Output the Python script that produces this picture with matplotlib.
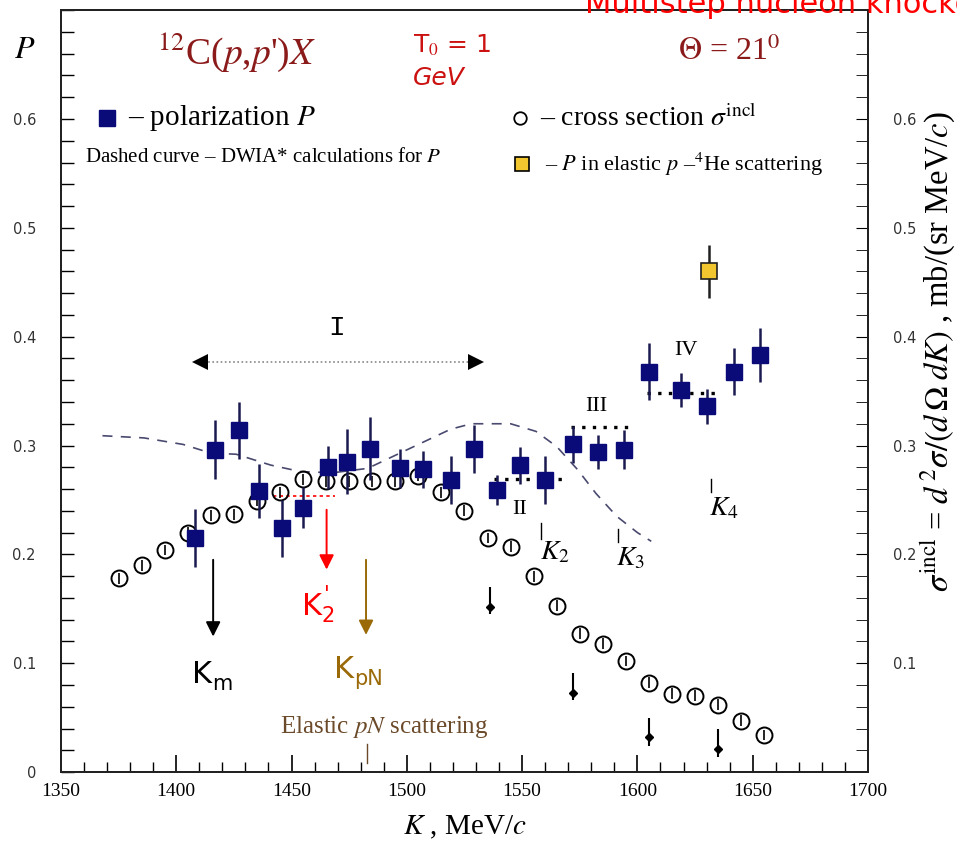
import numpy as np
import matplotlib.pyplot as plt
from matplotlib.ticker import MultipleLocator

plt.rcParams["mathtext.fontset"] = "stix"

# polarization P (filled navy squares)
pol_K = [1408, 1417, 1427, 1436, 1446, 1455, 1466, 1474, 1484, 1497, 1507, 1519,
         1529, 1539, 1549, 1560, 1572, 1583, 1594, 1605, 1619, 1630, 1642, 1653]
pol_P = [0.215, 0.296, 0.314, 0.258, 0.224, 0.243, 0.280, 0.285, 0.297, 0.279, 0.278, 0.268,
         0.297, 0.259, 0.282, 0.268, 0.301, 0.294, 0.296, 0.368, 0.351, 0.336, 0.368, 0.383]
pol_err = [0.027, 0.027, 0.026, 0.025, 0.026, 0.019, 0.020, 0.030, 0.029, 0.018, 0.017, 0.022,
           0.022, 0.014, 0.017, 0.022, 0.017, 0.016, 0.018, 0.026, 0.016, 0.016, 0.022, 0.025]

# inclusive cross section (open circles)
xs_K = [1375, 1385, 1395, 1405, 1415, 1425, 1435, 1445, 1455, 1465, 1475, 1485, 1495, 1505,
        1515, 1525, 1535, 1545, 1555, 1565, 1575, 1585, 1595, 1605, 1615, 1625, 1635, 1645, 1655]
xs_val = [0.178, 0.190, 0.204, 0.220, 0.236, 0.237, 0.249, 0.257, 0.269, 0.267, 0.267, 0.267,
          0.267, 0.272, 0.257, 0.240, 0.215, 0.207, 0.180, 0.153, 0.127, 0.118, 0.102, 0.082,
          0.072, 0.070, 0.062, 0.047, 0.034]
xs_err = 0.005

# small filled points with long upper bars
low_K = [1536, 1572, 1605, 1635]
low_val = [0.152, 0.073, 0.032, 0.021]
low_up = [0.018, 0.018, 0.018, 0.019]
low_dn = [0.007, 0.007, 0.008, 0.007]

# P in elastic p-4He scattering
he_K = [1631]
he_P = [0.460]
he_err = [0.024]

# DWIA dashed curve
dwia_K = [1368, 1386, 1403, 1415, 1426, 1441, 1454, 1468, 1483, 1494, 1506, 1519, 1528,
          1545, 1556, 1565, 1574, 1582, 1591, 1600, 1606]
dwia_P = [0.309, 0.307, 0.301, 0.293, 0.292, 0.282, 0.276, 0.275, 0.279, 0.290, 0.302, 0.315,
          0.320, 0.320, 0.313, 0.299, 0.278, 0.256, 0.235, 0.220, 0.212]

# dotted plateau levels: (K start, K end, P)
plateaus = [(1538, 1570, 0.2696), (1571, 1599, 0.317), (1604, 1636, 0.348)]
plateau_labels = [("II", 1549, 0.241), ("III", 1582, 0.336), ("IV", 1621, 0.387)]

navy = "#0a0a78"
darkred = "#8b1a1a"
yellow = "#f2c62e"
brown = "#9a6a08"

fig = plt.figure(figsize=(9.57, 8.47), dpi=100)
ax = fig.add_axes([0.0637, 0.0885, 0.8433, 0.8995])
ax.set_xlim(1350, 1700)
ax.set_ylim(0, 0.70)

# DWIA curve
ax.plot(dwia_K, dwia_P, color="#4a4a70", lw=1.2, dashes=(6, 5))

# cross section
ax.errorbar(xs_K, xs_val, yerr=xs_err, fmt="o", ms=11.5, mfc="none", mec="black",
            mew=1.4, ecolor="black", elinewidth=1.2, capsize=0, zorder=3)
ax.errorbar(low_K, low_val, yerr=[low_dn, low_up], fmt="D", ms=4.5, color="black",
            elinewidth=1.5, capsize=0, zorder=3)

# plateaus
for k0, k1, p in plateaus:
    ax.plot([k0, k1], [p, p], color="black", lw=2.4, ls=(0, (1, 2.2)), zorder=2)
for txt, k, p in plateau_labels:
    ax.text(k, p, txt, ha="center", va="center", fontsize=16, family="Liberation Serif")

# polarization
ax.errorbar(pol_K, pol_P, yerr=pol_err, fmt="s", ms=11.5, color=navy, mec=navy,
            ecolor="#1a1a50", elinewidth=1.8, capsize=0, zorder=4)
ax.errorbar(he_K, he_P, yerr=he_err, fmt="s", ms=11, mfc=yellow, mec="#202020",
            mew=1.2, ecolor="#202020", elinewidth=1.8, capsize=0, zorder=4)

# red dotted K2' level
ax.plot([1442, 1469], [0.254, 0.254], color="red", lw=1.2, ls=(0, (2, 2)), zorder=2)

# region I double arrow
ax.plot([1412, 1528], [0.377, 0.377], color="#888888", lw=1.2, ls=(0, (1, 1.5)))
ax.plot([1410.5], [0.377], marker="<", ms=11, color="black", mew=0)
ax.plot([1530], [0.377], marker=">", ms=11, color="black", mew=0)
ax.text(1469.5, 0.408, "I", ha="center", va="center", fontsize=20, family="Liberation Mono")

# K ticks and labels
for k, p0, p1 in [(1558.4, 0.214, 0.229), (1591.7, 0.211, 0.223), (1631.9, 0.257, 0.269)]:
    ax.plot([k, k], [p0, p1], color="black", lw=1)
ax.text(1564, 0.203, "$K_2$", ha="center", va="center", fontsize=20)
ax.text(1597, 0.197, "$K_3$", ha="center", va="center", fontsize=20)
ax.text(1637.5, 0.243, "$K_4$", ha="center", va="center", fontsize=20)

# arrows
arr = dict(arrowstyle="-|>", lw=1.4, mutation_scale=22, shrinkA=0, shrinkB=0)
ax.annotate("", xy=(1416, 0.1245), xytext=(1416, 0.195), arrowprops=dict(arr, color="black"))
ax.annotate("", xy=(1465.2, 0.186), xytext=(1465.2, 0.241), arrowprops=dict(arr, color="red"))
ax.annotate("", xy=(1482.3, 0.126), xytext=(1482.3, 0.195), arrowprops=dict(arr, color=brown))


def klabel(k, p, sub, color, prime=False):
    ax.text(k, p, "K", ha="right", va="center", fontsize=22, color=color)
    ax.annotate(sub, (k, p), xytext=(0, -7), textcoords="offset points", ha="left",
                va="center", fontsize=15, color=color)
    if prime:
        ax.annotate("'", (k, p), xytext=(2, 8), textcoords="offset points", ha="left",
                    va="center", fontsize=15, color=color)


klabel(1415.5, 0.090, "m", "black")
klabel(1463, 0.152, "2", "red", prime=True)
klabel(1477, 0.094, "pN", brown)

# elastic pN
ax.text(1490, 0.0417, r"Elastic $pN$ scattering", ha="center", va="center", fontsize=18,
        color="#6b4a2a", family="Liberation Serif")
ax.plot([1482.6, 1482.6], [0.008, 0.026], color="#6b4a2a", lw=1)

# axes ticks
ax.xaxis.set_major_locator(MultipleLocator(50))
ax.xaxis.set_minor_locator(MultipleLocator(10))
ax.yaxis.set_major_locator(MultipleLocator(0.1))
ax.yaxis.set_minor_locator(MultipleLocator(0.02))
ax.tick_params(which="both", direction="in", top=False, right=True)
ax.tick_params(axis="x", which="major", length=12, width=1.2, pad=8)
ax.tick_params(axis="x", which="minor", length=7, width=1.0)
ax.tick_params(axis="y", which="both", length=9, width=1.0)
ax.set_yticks([0, 0.1, 0.2, 0.3, 0.4, 0.5, 0.6])
ax.set_yticklabels(["0", "0.1", "0.2", "0.3", "0.4", "0.5", "0.6"], fontsize=10.5, color="#333333")
ax.set_xticks([1350, 1400, 1450, 1500, 1550, 1600, 1650, 1700])
ax.set_xticklabels(["1350", "1400", "1450", "1500", "1550", "1600", "1650", "1700"],
                   fontsize=14, family="Liberation Serif")
ax.tick_params(axis="y", pad=18)

ax2 = ax.twinx()
ax2.set_ylim(0, 0.70)
ax2.yaxis.set_minor_locator(MultipleLocator(0.02))
ax2.set_yticks([0.1, 0.2, 0.3, 0.4, 0.5, 0.6])
ax2.set_yticklabels(["0.1", "0.2", "0.3", "0.4", "0.5", "0.6"], fontsize=10.5, color="#333333")
ax2.tick_params(which="both", direction="in", length=9, pad=18)

for a in (ax, ax2):
    for s in a.spines.values():
        s.set_linewidth(1.4)
        s.set_color("#222222")

# axis titles
fig.text(25 / 957, 1 - 50 / 847, "$P$", fontsize=23, ha="center", va="center")
ax.set_xlabel(r"$K$ , MeV/$c$", fontsize=21, family="Liberation Serif", labelpad=10)
fig.text(938 / 957, 1 - 352 / 847,
         r"$\sigma^{\rm incl}$ = $d^{\,2}\sigma/(d\,\Omega\; dK)$ , mb/(sr MeV/$c$)",
         rotation=90, fontsize=23.5, ha="center", va="center", family="Liberation Serif")

# top texts
fig.text(237 / 957, 1 - 52 / 847, r"$^{12}$C($p$,$p$')$X$", fontsize=27, color=darkred,
         ha="center", va="center", family="Liberation Serif")
fig.text(729 / 957, 1 - 52 / 847, r"$\Theta$ = 21$^0$", fontsize=23, color=darkred,
         ha="center", va="center", family="Liberation Serif")
fig.text(413 / 957, 1 - 45 / 847, r"T$_0$ = 1", fontsize=18, color="#cc1111", ha="left", va="center")
fig.text(413 / 957, 1 - 78 / 847, "GeV", fontsize=18, color="#cc1111", ha="left", va="center",
         style="italic")
fig.text(585 / 957, 1 - 13 / 847, "Multistep nucleon knockout", fontsize=22, color="red",
         ha="left", va="baseline")

# legend
ax.plot([107 / 957], [1 - 118 / 847], "s", ms=11, color=navy, transform=fig.transFigure,
        clip_on=False)
fig.text(128 / 957, 1 - 118 / 847, r"– polarization $P$", fontsize=21, ha="left", va="center",
         family="Liberation Serif")
fig.text(85 / 957, 1 - 157 / 847, r"Dashed curve – DWIA* calculations for $P$", fontsize=15,
         ha="left", va="center", family="Liberation Serif")
ax.plot([520 / 957], [1 - 118 / 847], "o", ms=9, mfc="none", mec="black", mew=1.3,
        transform=fig.transFigure, clip_on=False)
fig.text(540 / 957, 1 - 118 / 847, r"– cross section $\sigma^{\rm incl}$", fontsize=20,
         ha="left", va="center", family="Liberation Serif")
ax.plot([522 / 957], [1 - 164 / 847], "s", ms=10, mfc=yellow, mec="black", mew=1.2,
        transform=fig.transFigure, clip_on=False)
fig.text(545 / 957, 1 - 164 / 847, r"– $P$ in elastic $p$ –$^4$He scattering", fontsize=16,
         ha="left", va="center", family="Liberation Serif")

fig.savefig("out.png", dpi=100)
